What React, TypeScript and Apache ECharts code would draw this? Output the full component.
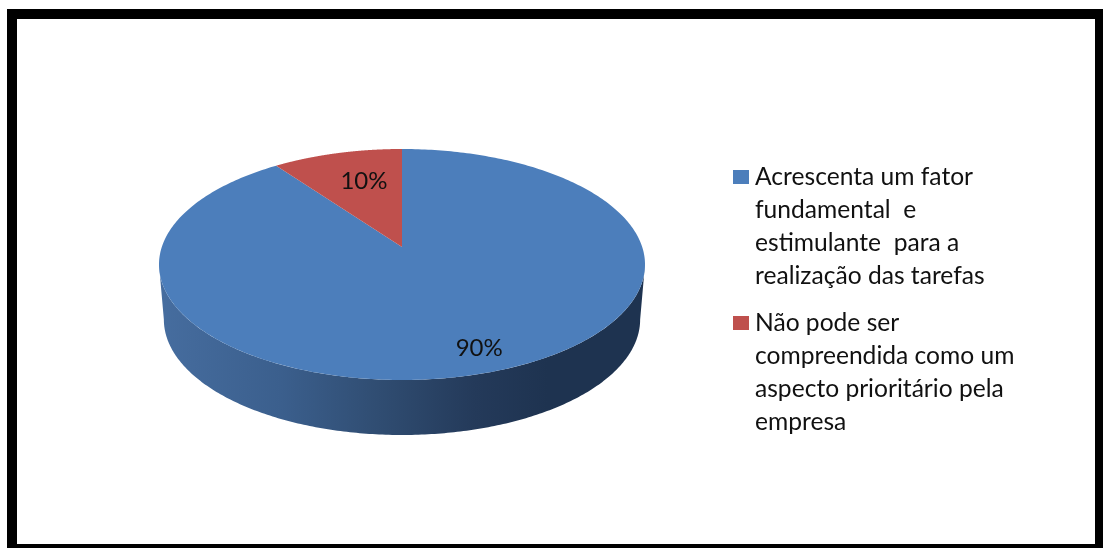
import React, { useEffect, useRef } from "react";
import * as echarts from "echarts";

const sliceNames = [
  "Acrescenta um fator\nfundamental  e\nestimulante  para a\nrealização das tarefas",
  "Não pode ser\ncompreendida como um\naspecto prioritário pela\nempresa",
];
const sliceValues = [90, 10];
const sliceLabels = ["90%", "10%"];
const sliceColors = ["#4c7ebb", "#bf504d"];
const labelRadii = [0.832, 0.665];
const labelNudge = [
  [7, -2],
  [7, -2],
];

const PIE = { cx: 402, apexY: 247, rx: 240.2, ry: 112.85, k: 0.1515, depth: 55, wallScale: 0.98 };
const TOTAL = sliceValues.reduce((a, b) => a + b, 0);

function project(theta: number, r = 1): [number, number] {
  const u = r * Math.sin(theta);
  const v = r * Math.cos(theta);
  const w = 1 + PIE.k * v;
  return [PIE.cx + (PIE.rx * u) / w, PIE.apexY - (PIE.ry * v) / w];
}

function wallPoints(): number[][] {
  const top: number[][] = [];
  const bottom: number[][] = [];
  const n = 240;
  const tangent = Math.asin(PIE.k);
  // front half of the rim, from right tangent to left tangent
  for (let i = 0; i <= n; i++) {
    const t = Math.PI / 2 + tangent + (i / n) * (Math.PI - 2 * tangent);
    const p = project(t);
    top.push(p);
    bottom.push([(p[0] - PIE.cx) * PIE.wallScale + PIE.cx, p[1] + PIE.depth]);
  }
  return [...top, ...bottom.reverse()];
}

function makeRender(index: number) {
  return (_params: any, api: any) => {
    const before = sliceValues.slice(0, index).reduce((a, b) => a + b, 0);
    const value = api.value(0);
    const start = (before / TOTAL) * Math.PI * 2;
    const end = ((before + value) / TOTAL) * Math.PI * 2;
    const pts: number[][] = [[PIE.cx, PIE.apexY]];
    const steps = 360;
    for (let i = 0; i <= steps; i++) {
      pts.push(project(start + ((end - start) * i) / steps));
    }
    const mid = (start + end) / 2;
    const [lx, ly] = project(mid, labelRadii[index]);
    const children: any[] = [];
    if (index === 0) {
      children.push({
        type: "polygon",
        shape: { points: wallPoints() },
        style: {
          fill: new echarts.graphic.LinearGradient(0, 0, 1, 0, [
            { offset: 0, color: "#466d9f" },
            { offset: 0.25, color: "#3b5f8d" },
            { offset: 0.45, color: "#304d72" },
            { offset: 0.65, color: "#243a5a" },
            { offset: 0.8, color: "#1e3350" },
            { offset: 1, color: "#1e3350" },
          ]),
        },
      });
    }
    children.push({
      type: "polygon",
      shape: { points: pts },
      style: { fill: sliceColors[index] },
    });
    children.push({
      type: "text",
      x: lx + labelNudge[index][0],
      y: ly + labelNudge[index][1],
      style: {
        text: sliceLabels[index],
        fill: "#111111",
        font: "24px Lato",
        align: "center",
        verticalAlign: "middle",
      },
    });
    return { type: "group", children };
  };
}

const legendIcon = "path://M0 0H16V0H0ZM0 11H16V25H0ZM0 132H16V132H0Z";

export default function App() {
  const ref = useRef<HTMLDivElement>(null);
  useEffect(() => {
    document.body.style.margin = "0";
    document.documentElement.style.overflow = "hidden";
    document.body.style.overflow = "hidden";
    const chart = echarts.init(ref.current!, undefined, { renderer: "svg" });
    chart.setOption({
      animation: false,
      backgroundColor: "#ffffff",
      graphic: [
        { type: "rect", z: 0, shape: { x: 7, y: 9, width: 1096, height: 10 }, style: { fill: "#000000" } },
        { type: "rect", z: 0, shape: { x: 7, y: 9, width: 10, height: 539 }, style: { fill: "#000000" } },
        { type: "rect", z: 0, shape: { x: 1095, y: 9, width: 8, height: 539 }, style: { fill: "#000000" } },
        { type: "rect", z: 0, shape: { x: 7, y: 544, width: 1096, height: 4 }, style: { fill: "#000000" } },
      ],
      legend: {
        orient: "vertical",
        left: 733,
        top: 159,
        padding: 0,
        itemWidth: 16,
        itemHeight: 132,
        itemGap: 14,
        icon: legendIcon,
        selectedMode: false,
        data: sliceNames,
        textStyle: {
          fontFamily: "Lato",
          fontSize: 24.6,
          lineHeight: 33,
          color: "#111111",
          padding: [0, 0, 0, 1],
        },
      },
      series: sliceNames.map((name, i) => ({
        type: "custom",
        name,
        coordinateSystem: "none",
        silent: true,
        z: i === 0 ? 2 : 3,
        itemStyle: { color: sliceColors[i] },
        data: [[sliceValues[i]]],
        renderItem: makeRender(i),
      })),
    });
    return () => chart.dispose();
  }, []);
  return (
    <div style={{ width: 1103, height: 548, overflow: "hidden" }}>
      <div ref={ref} style={{ width: 1103, height: 548, filter: "blur(0.6px)" }} />
    </div>
  );
}
